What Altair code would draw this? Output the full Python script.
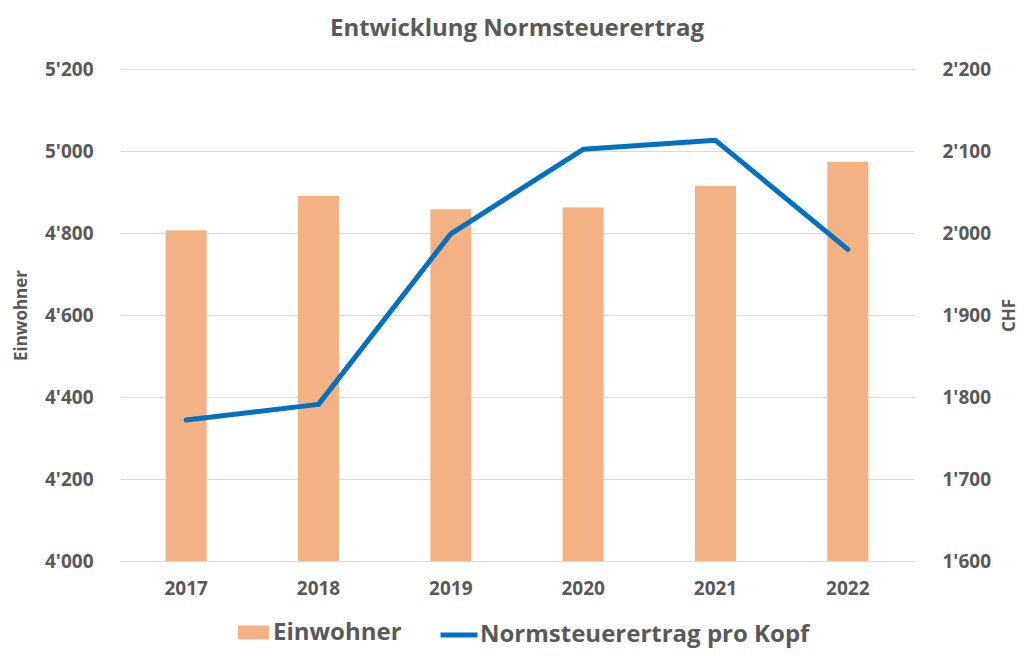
import altair as alt
import pandas as pd

years = ["2017", "2018", "2019", "2020", "2021", "2022"]
einwohner = [4807, 4890, 4858, 4862, 4915, 4973]
ertrag_pro_kopf = [1772, 1791, 1999, 2102, 2113, 1980]
series_bar = "Einwohner"
series_line = "Normsteuerertrag pro Kopf"
left_ticks = [4000, 4200, 4400, 4600, 4800, 5000, 5200]
right_ticks = [1600, 1700, 1800, 1900, 2000, 2100, 2200]

df = pd.DataFrame({
    "Jahr": years,
    "Einwohner": einwohner,
    "Ertrag": ertrag_pro_kopf,
    "s1": [series_bar] * len(years),
    "s2": [series_line] * len(years),
})

FONT = "Open Sans"
GRAY = "#595959"
GRID = "#D9D9D9"
label_expr = "replace(format(datum.value, ','), ',', \"'\")"

x_enc = alt.X(
    "Jahr:N",
    scale=alt.Scale(paddingInner=0, paddingOuter=0),
    axis=alt.Axis(
        title=None, labelAngle=0, ticks=False, domain=True, domainColor=GRID,
        labelPadding=18, labelFontSize=19, labelFont=FONT, labelFontWeight="bold",
        labelColor=GRAY, grid=False,
    ),
)

bars = alt.Chart(df).mark_bar(width=alt.RelativeBandSize(0.31), clip=True).encode(
    x=x_enc,
    y=alt.Y(
        "Einwohner:Q",
        scale=alt.Scale(domain=[4000, 5200], zero=False, nice=False),
        axis=alt.Axis(
            values=left_ticks, labelExpr=label_expr, title="Einwohner", orient="left",
            grid=True, gridColor=GRID, gridWidth=1, ticks=False, domain=False,
            labelPadding=27, titlePadding=14, labelFontSize=19, labelFont=FONT,
            labelFontWeight="bold", labelColor=GRAY, titleFont=FONT, titleFontSize=17,
            titleFontWeight="bold", titleColor=GRAY,
        ),
    ),
    color=alt.Color(
        "s1:N",
        scale=alt.Scale(domain=[series_bar], range=["#F4B183"]),
        legend=alt.Legend(
            orient="none", legendX=118, legendY=548, title=None, padding=0,
            symbolType="M-1,-0.45H1V0.45H-1Z", symbolSize=961, symbolStrokeWidth=0,
            labelFontSize=24, labelFont=FONT, labelFontWeight="bold", labelColor=GRAY,
            labelOffset=4, labelLimit=500,
        ),
    ),
)

line = alt.Chart(df).mark_line(strokeWidth=5, strokeCap="round", strokeJoin="round").encode(
    x=x_enc,
    y=alt.Y(
        "Ertrag:Q",
        scale=alt.Scale(domain=[1600, 2200], zero=False, nice=False),
        axis=alt.Axis(
            values=right_ticks, labelExpr=label_expr, title="CHF", orient="right",
            grid=False, ticks=False, domain=False, labelPadding=28, titlePadding=28,
            titleAngle=270, labelFontSize=19, labelFont=FONT, labelFontWeight="bold",
            labelColor=GRAY, titleFont=FONT, titleFontSize=17, titleFontWeight="bold",
            titleColor=GRAY,
        ),
    ),
    stroke=alt.Stroke(
        "s2:N",
        scale=alt.Scale(domain=[series_line], range=["#0070C0"]),
        legend=alt.Legend(
            orient="none", legendX=318, legendY=545, title=None, padding=0,
            symbolType="stroke", symbolSize=1369, symbolStrokeWidth=5,
            labelFontSize=24, labelFont=FONT, labelFontWeight="bold", labelColor=GRAY,
            labelOffset=0, labelLimit=600,
        ),
    ),
)

chart = alt.layer(bars, line).resolve_scale(
    y="independent", color="independent", stroke="independent"
).properties(
    width=794,
    height=492,
    title=alt.Title(
        "Entwicklung Normsteuerertrag", fontSize=24, font=FONT, fontWeight="bold",
        color=GRAY, anchor="middle", offset=19,
    ),
    autosize=alt.AutoSizeParams(type="none"),
    padding={"left": 112, "top": 61, "right": 105, "bottom": 87},
).configure(background="white").configure_view(stroke=None)

chart.save("out.html", embed_options={"renderer": "svg", "actions": False})
